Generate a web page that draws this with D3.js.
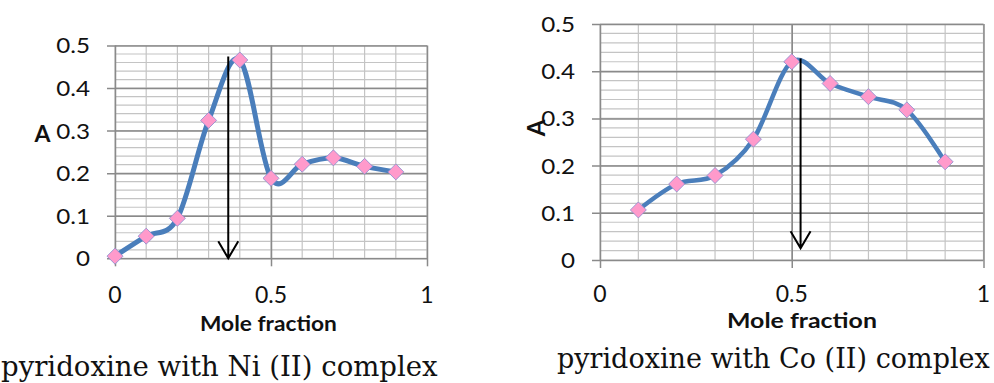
<!DOCTYPE html>
<html>
<head>
<meta charset="utf-8">
<script src="https://cdn.jsdelivr.net/npm/d3@7"></script>
<style>
  html, body { margin: 0; padding: 0; background: #ffffff; }
  svg { display: block; }
</style>
</head>
<body>
<svg id="chart" width="994" height="383"></svg>
<script>
// Job's method of continuous variation: absorbance vs mole fraction
const niMoleFraction = [0, 0.1, 0.2, 0.3, 0.4, 0.5, 0.6, 0.7, 0.8, 0.9];
const niAbsorbance   = [0.005, 0.052, 0.094, 0.324, 0.466, 0.188, 0.221, 0.236, 0.216, 0.203];
const coMoleFraction = [0.1, 0.2, 0.3, 0.4, 0.5, 0.6, 0.7, 0.8, 0.9];
const coAbsorbance   = [0.106, 0.161, 0.179, 0.256, 0.420, 0.374, 0.346, 0.318, 0.208];
const yTickValues = [0, 0.1, 0.2, 0.3, 0.4, 0.5];
const xTickValues = [0, 0.5, 1];
// arrow marking the stoichiometric point: [mole fraction, top A, bottom A]
const niArrow = [0.363, 0.474, 0.0];
const coArrow = [0.523, 0.427, 0.025];
const niCaption = "pyridoxine with Ni (II) complex";
const coCaption = "pyridoxine with Co (II) complex";
const xTitle = "Mole fraction";
const yTitle = "A";

const svg = d3.select("#chart");
const fmt = d3.format("");
const sans = "Lato, 'Open Sans', sans-serif";

// draws a text whose width is fitted to a target by scaling it horizontally
function fittedText(parent, x, y, width, anchor, attrs, str) {
  const t = parent.append("text").attr("x", 0).attr("y", 0).text(str);
  Object.entries(attrs).forEach(([k, v]) => t.attr(k, v));
  const natural = t.node().getComputedTextLength();
  const s = width / natural;
  const left = anchor === "middle" ? x - width / 2 : x;
  t.attr("transform", `translate(${left},${y}) scale(${s},1)`);
  return t;
}

function drawPanel(cfg) {
  const g = svg.append("g");
  const x = d3.scaleLinear().domain([0, 1]).range(cfg.xRange);
  const y = d3.scaleLinear().domain([0, 0.5]).range(cfg.yRange);
  const [x0, x1] = cfg.xRange;
  const [y0, y1] = cfg.yRange;
  const w = x1 - x0, h = y0 - y1;

  // minor gridlines
  const minorH = d3.range(0, 0.5001, 0.02);
  const minorV = d3.range(0, 1.0001, 0.1);
  g.append("g").selectAll("line").data(minorH).join("line")
    .attr("x1", x0).attr("x2", x1)
    .attr("y1", d => y(d)).attr("y2", d => y(d))
    .attr("stroke", "#c4c4c4").attr("stroke-width", 1.2);
  g.append("g").selectAll("line").data(minorV).join("line")
    .attr("x1", d => x(d)).attr("x2", d => x(d))
    .attr("y1", y0).attr("y2", y1)
    .attr("stroke", "#c4c4c4").attr("stroke-width", 1.2);

  // major gridlines, each with an outward tick mark
  const ya = g.append("g").attr("transform", `translate(${x0 - 8},0)`)
    .call(d3.axisLeft(y).tickValues(yTickValues).tickSize(-(w + 8)).tickFormat(""));
  ya.select(".domain").remove();
  ya.selectAll("line").attr("stroke", "#8a8a8a").attr("stroke-width", 1.5);

  const xa = g.append("g").attr("transform", `translate(0,${y0 + 8})`)
    .call(d3.axisBottom(x).tickValues(xTickValues).tickSize(-(h + 8)).tickFormat(""));
  xa.select(".domain").remove();
  xa.selectAll("line").attr("stroke", "#8a8a8a").attr("stroke-width", 1.5);

  // tick labels
  g.append("g").selectAll("text").data(yTickValues).join("text")
    .attr("x", x0 - cfg.yLabelGap).attr("y", d => y(d))
    .attr("dy", "0.36em").attr("text-anchor", "end")
    .attr("font-family", sans)
    .attr("font-size", cfg.yFont).attr("fill", "#111")
    .text(d => fmt(d))
    .each(function () {
      const tw = this.getComputedTextLength();
      d3.select(this).attr("textLength", tw * 1.1).attr("lengthAdjust", "spacingAndGlyphs");
    });
  g.append("g").selectAll("text").data(xTickValues).join("text")
    .attr("x", d => x(d)).attr("y", cfg.xLabelY)
    .attr("text-anchor", "middle")
    .attr("font-family", sans)
    .attr("font-size", cfg.xFont).attr("fill", "#111")
    .text(d => fmt(d));

  // axis titles
  fittedText(g, cfg.xTitle[0], cfg.xTitle[1], cfg.xTitle[3], "middle", {
    "font-family": sans, "font-weight": "bold", "font-size": cfg.xTitle[2], fill: "#111"
  }, xTitle);
  g.append("text")
    .attr("transform", `translate(${cfg.yTitle[0]},${cfg.yTitle[1]}) rotate(${cfg.yTitle[2]})`)
    .attr("text-anchor", "middle").attr("dy", "0.36em")
    .attr("font-family", sans)
    .attr("font-weight", "bold").attr("font-size", cfg.yTitle[3])
    .attr("fill", "#111").text(yTitle);

  // smoothed data line
  const line = d3.line()
    .x((d, i) => x(cfg.xs[i]))
    .y(d => y(d))
    .curve(d3.curveCardinal.tension(0));
  g.append("path").datum(cfg.ys)
    .attr("d", line)
    .attr("fill", "none").attr("stroke", "#4a7ebb")
    .attr("stroke-width", cfg.lineWidth)
    .attr("stroke-linejoin", "round").attr("stroke-linecap", "round");

  // diamond markers
  const diamond = d3.symbol().type(d3.symbolSquare).size(cfg.markerSize);
  g.append("g").selectAll("path").data(cfg.ys).join("path")
    .attr("transform", (d, i) => `translate(${x(cfg.xs[i])},${y(d)}) rotate(45)`)
    .attr("d", diamond)
    .attr("fill", "#ff9acb").attr("stroke", "#8e8ed0").attr("stroke-width", 0.8);

  // arrow down to the mole-fraction axis
  const [ax, aTop, aBot] = cfg.arrow;
  const px = x(ax), pt = y(aTop), pb = y(aBot);
  g.append("path")
    .attr("d", `M${px},${pt}V${pb}M${px - 10},${pb - 17}L${px},${pb}L${px + 10},${pb - 17}`)
    .attr("fill", "none").attr("stroke", "#000").attr("stroke-width", 2);

  // caption
  fittedText(g, cfg.caption[0], cfg.caption[1], cfg.caption[3], "start", {
    "font-family": "'DejaVu Serif', 'Liberation Serif', serif",
    "font-size": cfg.caption[2], fill: "#111"
  }, cfg.captionText);
}

drawPanel({
  xs: niMoleFraction, ys: niAbsorbance, arrow: niArrow,
  xRange: [115, 427], yRange: [258.3, 45.5],
  yLabelGap: 25, yFont: 22, xFont: 23, xLabelY: 303,
  xTitle: [268.5, 331, 20, 137],
  yTitle: [42.5, 134, 0, 23],
  lineWidth: 5, markerSize: 128,
  caption: [1, 375.5, 27, 437], captionText: niCaption
});

drawPanel({
  xs: coMoleFraction, ys: coAbsorbance, arrow: coArrow,
  xRange: [600, 983.5], yRange: [260, 24],
  yLabelGap: 25, yFont: 22, xFont: 23, xLabelY: 302,
  xTitle: [802, 328, 21, 150],
  yTitle: [536, 128, -90, 24],
  lineWidth: 4.5, markerSize: 128,
  caption: [557, 368, 27, 433], captionText: coCaption
});
</script>
</body>
</html>
